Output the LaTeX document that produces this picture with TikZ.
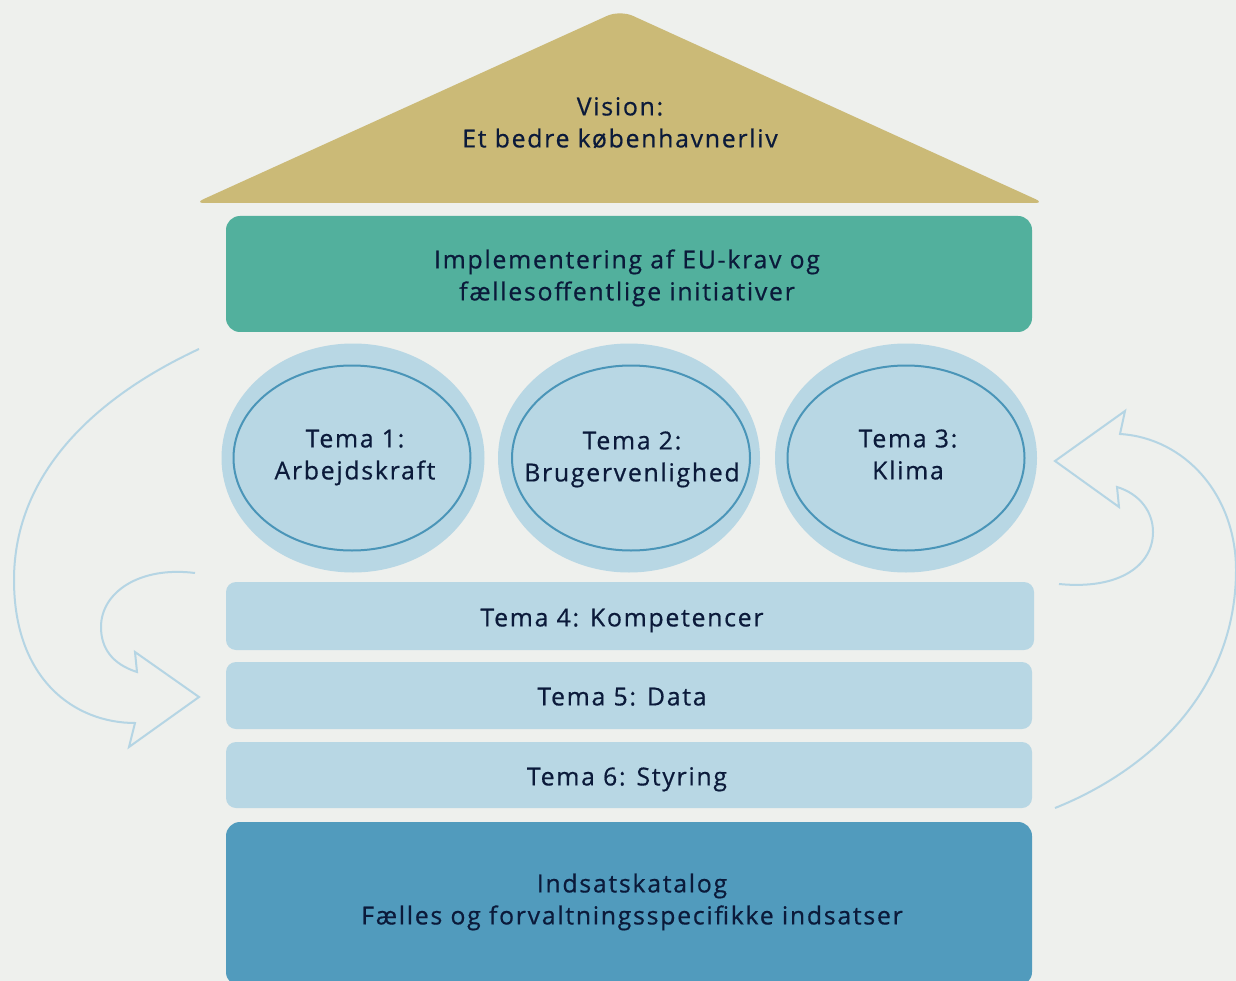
\documentclass[tikz,border=0pt]{standalone}
\usepackage{fontspec}
\setmainfont{Open Sans}[LetterSpace=7,FakeBold=0.6]
\usetikzlibrary{shapes.geometric}
\definecolor{bg}{HTML}{EEF0ED}
\definecolor{roof}{HTML}{CBBA77}
\definecolor{greenb}{HTML}{52B09D}
\definecolor{lightb}{HTML}{B8D7E4}
\definecolor{ringb}{HTML}{4A95B8}
\definecolor{darkb}{HTML}{519BBD}
\definecolor{arrowb}{HTML}{B5D5E4}
\definecolor{txt}{HTML}{0B1A3A}
\tikzset{
  lbl/.style={text=txt, font=\fontsize{24.8}{32}\selectfont, align=center, inner sep=0pt},
  box/.style={rounded corners=14pt, inner sep=0pt, lbl},
  bar/.style={box, fill=lightb, rounded corners=10pt},
  outerov/.style={ellipse, fill=lightb, inner sep=0pt},
  innerov/.style={ellipse, draw=ringb, line width=2pt, fill=lightb, inner sep=0pt},
  cyc/.style={draw=arrowb, line width=2pt, line join=miter}
}
\begin{document}
\begin{tikzpicture}[x=1pt,y=-1pt]
\fill[bg] (0,0) rectangle (1236,981);
\useasboundingbox (0,0) rectangle (1236,981);
% roof
\fill[roof] (620,203) [rounded corners=9pt] -- (195,203) [rounded corners=14pt] -- (620,10) [rounded corners=9pt] -- (1044,203) -- cycle;
\node[lbl] (vision) at (620,125) {\strut Vision:\\\strut Et bedre københavnerliv};
% implementation
\node[box, fill=greenb, minimum width=806pt, minimum height=116pt] (impl) at (629,274) {};
\node[lbl] (impll) at (627,278) {\strut Implementering af EU-krav og\\\strut fællesoffentlige initiativer};
% themes
\node[outerov, minimum width=263pt, minimum height=229pt] (o1) at (353,458) {};
\node[outerov, minimum width=262pt, minimum height=229pt] (o2) at (629,458) {};
\node[outerov, minimum width=262pt, minimum height=229pt] (o3) at (906,458) {};
\node[innerov, minimum width=237pt, minimum height=185pt] (t1) at (352,458) {};
\node[innerov, minimum width=238pt, minimum height=185pt] (t2) at (631,458) {};
\node[innerov, minimum width=237pt, minimum height=185pt] (t3) at (906,458) {};
\node[lbl] (t1l) at (355,457) {\strut Tema 1:\\\strut Arbejdskraft};
\node[lbl] (t2l) at (632,459) {\strut Tema 2:\\\strut Brugervenlighed};
\node[lbl] (t3l) at (908,457) {\strut Tema 3:\\\strut Klima};
% bars
\node[bar, minimum width=808pt, minimum height=68pt] (t4) at (630,616) {};
\node[bar, minimum width=806pt, minimum height=67pt] (t5) at (629,695.5) {};
\node[bar, minimum width=806pt, minimum height=66pt] (t6) at (629,775) {};
\node[lbl] (t4l) at (622,620) {\strut Tema 4: Kompetencer};
\node[lbl] (t5l) at (622,699) {\strut Tema 5: Data};
\node[lbl] (t6l) at (627,779) {\strut Tema 6: Styring};
% bottom
\node[box, fill=darkb, minimum width=806pt, minimum height=164pt] (cat) at (629,904) {};
\node[lbl] (catl) at (632,902) {\strut Indsatskatalog\\\strut Fælles og forvaltningsspecifikke indsatser};
% left cycle arrow
\draw[cyc] (199,349) .. controls (100,395) and (14,470) .. (14,580)
  .. controls (14,680) and (75,723) .. (135,723)
  -- (129,747) -- (199,697) -- (135,652) -- (137,672)
  .. controls (112,664) and (101,648) .. (101,627)
  .. controls (101,592) and (140,566) .. (195,573);
% right cycle arrow
\draw[cyc] (1055,808) .. controls (1150,770) and (1236,690) .. (1236,570)
  .. controls (1236,495) and (1185,438) .. (1120,434)
  -- (1125,411) -- (1055,461) -- (1119,507) -- (1117,487)
  .. controls (1140,494) and (1153,512) .. (1153,532)
  .. controls (1153,565) and (1120,590) .. (1059,584);
\end{tikzpicture}
\end{document}
